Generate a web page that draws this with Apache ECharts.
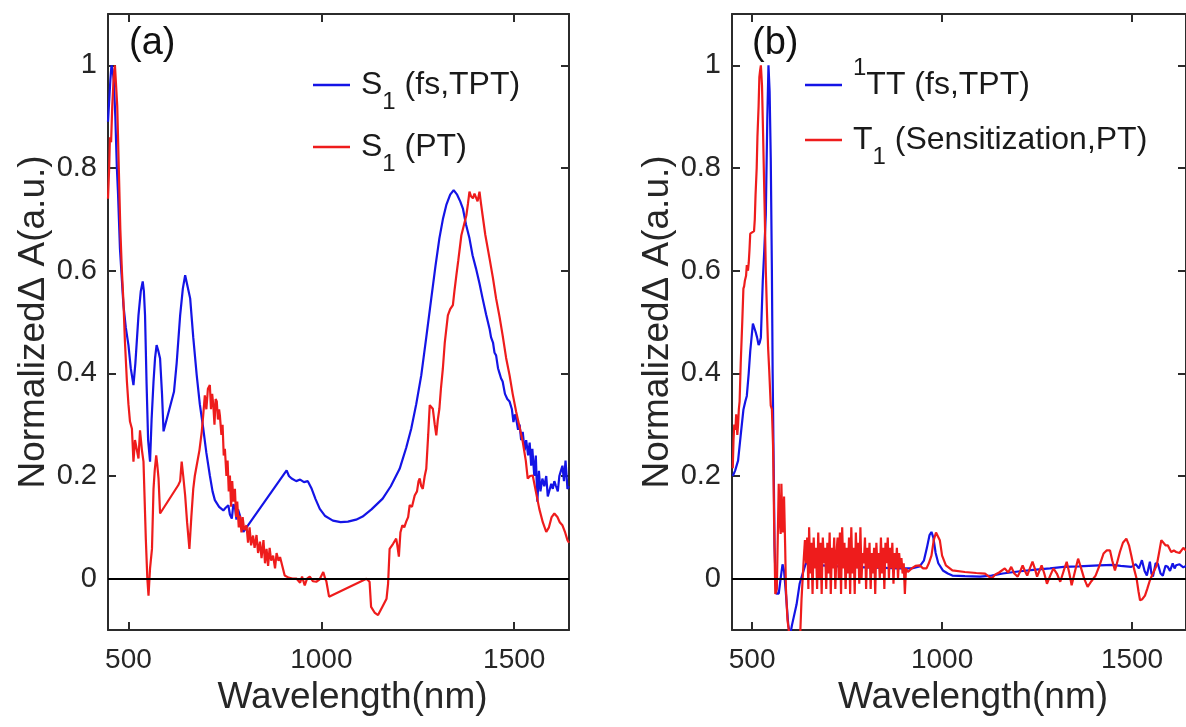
<!DOCTYPE html>
<html>
<head>
<meta charset="utf-8">
<script src="https://cdn.jsdelivr.net/npm/echarts@6/dist/echarts.min.js"></script>
<style>html,body{margin:0;padding:0;background:#fff}#c{width:1186px;height:727px}</style>
</head>
<body>
<div id="c"></div>
<script>
// ---------- tick labels ----------
const xTicks = [500, 1000, 1500];
const yTicks = [0, 0.2, 0.4, 0.6, 0.8, 1];
const xRange = [447, 1642];
const yRange = [-0.1, 1.1];

// ---------- panel (a): S1 (fs,TPT) ----------
const aBlueX = [447,450,453,456,459,462,466,470,473,478,487,493,500,506,513,518,526,532,537,540,543,547,551,556,560,565,569,573,577,582,587,591,618,625,634,641,647,653,660,668,677,685,694,702,711,718,724,735,746,752,759,763,768,772,776,780,784,789,793,798,910,916,923,935,945,955,965,975,985,996,1010,1030,1050,1069,1090,1107,1130,1159,1180,1203,1220,1233,1246,1259,1272,1285,1296,1306,1315,1324,1334,1343,1352,1360,1367,1375,1384,1392,1401,1410,1418,1427,1436,1440,1445,1449,1453,1458,1462,1466,1470,1476,1482,1488,1494,1498,1502,1505,1510,1514,1518,1522,1527,1531,1536,1540,1544,1547,1552,1556,1560,1564,1568,1573,1578,1583,1587,1591,1596,1600,1604,1608,1613,1617,1621,1625,1629,1633,1638,1642];
const aBlueY = [0.89,0.93,0.97,1.0,0.99,0.97,0.9,0.8,0.75,0.643,0.533,0.49,0.455,0.41,0.377,0.42,0.513,0.56,0.579,0.56,0.513,0.38,0.27,0.228,0.31,0.384,0.43,0.455,0.445,0.429,0.36,0.287,0.364,0.42,0.513,0.565,0.591,0.57,0.546,0.47,0.396,0.34,0.292,0.245,0.201,0.17,0.153,0.14,0.133,0.138,0.143,0.125,0.117,0.145,0.14,0.115,0.135,0.123,0.105,0.091,0.211,0.2,0.195,0.19,0.193,0.188,0.19,0.175,0.155,0.136,0.122,0.113,0.11,0.111,0.115,0.121,0.135,0.156,0.18,0.214,0.255,0.292,0.34,0.396,0.47,0.546,0.61,0.663,0.7,0.728,0.748,0.757,0.748,0.735,0.721,0.69,0.663,0.63,0.604,0.575,0.546,0.515,0.487,0.47,0.46,0.44,0.435,0.41,0.4,0.39,0.384,0.36,0.35,0.345,0.33,0.305,0.32,0.312,0.29,0.3,0.27,0.286,0.25,0.27,0.24,0.265,0.22,0.253,0.2,0.24,0.15,0.21,0.17,0.195,0.18,0.2,0.16,0.162,0.185,0.175,0.19,0.181,0.17,0.2,0.21,0.22,0.19,0.23,0.175,0.18];

// ---------- panel (a): S1 (PT) ----------
const aRedX = [447,450,452,455,458,462,465,468,471,475,479,483,487,491,496,500,504,509,513,517,522,526,530,535,539,545,549,552,556,561,565,568,572,575,578,582,629,634,638,642,647,652,658,663,668,672,677,684,690,694,698,702,706,711,714,717,720,723,726,729,732,735,737,741,744,747,750,754,757,760,763,766,769,772,776,779,782,786,789,793,796,800,806,810,814,818,823,827,832,836,841,845,850,854,858,862,866,870,875,880,884,889,893,897,905,915,925,936,945,950,957,963,970,978,987,995,1005,1010,1013,1020,1117,1125,1129,1138,1147,1158,1169,1173,1177,1181,1186,1190,1194,1197,1201,1205,1210,1215,1220,1225,1229,1235,1242,1248,1252,1255,1259,1263,1268,1272,1277,1281,1285,1289,1294,1298,1302,1306,1310,1315,1320,1328,1334,1341,1345,1350,1355,1363,1370,1376,1380,1384,1388,1393,1397,1401,1405,1410,1414,1418,1425,1436,1445,1453,1462,1470,1479,1488,1496,1505,1514,1522,1530,1535,1541,1548,1556,1565,1574,1583,1590,1597,1604,1612,1618,1625,1632,1638,1642];
const aRedY = [0.74,0.8,0.86,0.85,0.92,0.98,1.0,1.0,0.92,0.8,0.68,0.6,0.54,0.46,0.384,0.34,0.306,0.292,0.228,0.27,0.267,0.234,0.289,0.25,0.228,0.078,0.0,-0.033,0.02,0.058,0.175,0.21,0.24,0.22,0.195,0.127,0.182,0.19,0.228,0.2,0.162,0.11,0.058,0.12,0.175,0.2,0.221,0.25,0.286,0.32,0.357,0.33,0.37,0.377,0.33,0.36,0.338,0.3,0.35,0.345,0.31,0.33,0.318,0.28,0.3,0.24,0.253,0.2,0.23,0.17,0.201,0.14,0.19,0.15,0.175,0.12,0.15,0.1,0.123,0.09,0.12,0.095,0.104,0.07,0.1,0.065,0.084,0.06,0.085,0.05,0.072,0.04,0.075,0.03,0.058,0.025,0.06,0.035,0.045,0.02,0.05,0.035,0.042,0.039,0.006,0.002,0.0,0.0,-0.008,0.004,-0.013,0.0,0.004,-0.005,-0.006,-0.002,0.013,0.0,-0.005,-0.035,0.0,-0.006,-0.055,-0.066,-0.071,-0.055,-0.039,-0.01,0.058,0.06,0.068,0.07,0.078,0.065,0.043,0.09,0.104,0.1,0.111,0.12,0.143,0.14,0.162,0.17,0.19,0.195,0.18,0.175,0.2,0.214,0.28,0.338,0.34,0.331,0.3,0.279,0.31,0.331,0.37,0.409,0.46,0.513,0.525,0.533,0.56,0.591,0.62,0.669,0.69,0.708,0.73,0.754,0.745,0.741,0.75,0.747,0.735,0.754,0.73,0.708,0.67,0.624,0.585,0.546,0.51,0.474,0.43,0.396,0.36,0.325,0.295,0.267,0.23,0.195,0.2,0.201,0.17,0.136,0.11,0.091,0.1,0.12,0.127,0.12,0.11,0.104,0.09,0.075,0.07];

// ---------- panel (b): 1TT (fs,TPT) ----------
const bBlueX = [449,455,463,470,477,482,486,491,495,502,506,509,513,517,520,523,528,532,536,540,543,546,549,552,554,557,559,562,564,570,575,580,584,588,595,600,605,617,625,631,641,650,670,700,750,800,850,882,920,941,952,960,967,972,977,983,990,1002,1015,1027,1060,1100,1130,1160,1200,1240,1284,1320,1360,1413,1450,1470,1498,1510,1518,1526,1533,1539,1547,1551,1555,1562,1568,1575,1581,1588,1594,1600,1607,1612,1616,1625,1635,1642];
const bBlueY = [0.2,0.21,0.23,0.28,0.329,0.345,0.356,0.4,0.443,0.497,0.495,0.481,0.47,0.455,0.46,0.47,0.58,0.64,0.71,0.9,1.0,0.95,0.82,0.6,0.4,0.2,0.063,-0.01,-0.029,-0.029,0.0,0.028,0.015,-0.02,-0.09,-0.11,-0.09,-0.05,-0.01,0.005,0.029,0.03,0.027,0.025,0.023,0.022,0.021,0.02,0.02,0.024,0.035,0.06,0.085,0.091,0.08,0.05,0.03,0.016,0.01,0.006,0.005,0.004,0.006,0.01,0.014,0.017,0.02,0.023,0.024,0.026,0.027,0.025,0.023,0.028,0.02,0.036,0.015,0.006,0.033,0.01,0.004,0.03,0.029,0.01,0.006,0.025,0.023,0.015,0.03,0.02,0.026,0.028,0.022,0.025];

// ---------- panel (b): T1 (Sensitization,PT) ----------
const bRedX = [449,451,453,456,458,461,463,465,467,470,474,477,479,481,484,486,489,491,493,495,500,505,507,509,512,514,517,519,521,523,526,529,533,536,539,542,545,549,552,555,556,558,561,565,568,570,572,575,577,579,581,584,587,589,593,598,610,620,626,630,633,636,639,642,645,648,650,653,656,659,662,665,668,671,674,677,680,683,686,689,692,695,698,701,704,707,710,713,716,719,722,725,728,731,734,737,740,743,746,749,752,755,758,761,764,767,770,773,776,779,782,785,788,791,794,797,800,803,806,809,812,815,818,821,824,827,830,833,836,839,842,845,848,851,854,857,860,863,866,869,872,875,878,881,884,887,890,893,896,899,902,905,910,920,930,941,950,959,965,972,978,984,989,994,1000,1010,1027,1060,1090,1113,1130,1140,1150,1165,1174,1182,1190,1199,1206,1212,1218,1224,1231,1238,1244,1250,1256,1262,1269,1276,1284,1293,1302,1311,1320,1328,1335,1341,1350,1358,1366,1374,1383,1393,1404,1414,1425,1433,1442,1448,1455,1462,1468,1476,1485,1492,1498,1505,1512,1517,1521,1527,1534,1540,1547,1556,1565,1571,1577,1582,1588,1594,1603,1610,1616,1625,1635,1642];
const bRedY = [0.215,0.27,0.3,0.29,0.32,0.28,0.3,0.33,0.345,0.42,0.5,0.565,0.57,0.581,0.59,0.611,0.6,0.615,0.64,0.672,0.675,0.677,0.7,0.748,0.8,0.862,0.92,0.977,0.99,1.0,0.96,0.86,0.718,0.6,0.52,0.45,0.405,0.337,0.33,0.26,0.215,0.1,-0.03,-0.02,0.1,0.185,0.12,0.087,0.185,0.12,0.09,0.16,0.06,-0.02,-0.08,-0.11,-0.13,-0.13,-0.12,-0.04,0.0,0.04,0.075,0.03,0.08,-0.02,0.1,0.01,0.07,-0.03,0.08,0.02,0.06,-0.02,0.09,0.0,0.07,-0.03,0.08,0.03,0.06,-0.02,0.07,0.01,0.09,-0.03,0.06,0.02,0.08,-0.02,0.05,0.08,0.0,0.09,-0.03,0.1,0.02,0.07,-0.02,0.06,0.01,0.08,-0.03,0.1,0.01,0.06,-0.03,0.09,0.02,0.07,-0.01,0.1,0.0,0.05,0.03,0.08,-0.02,0.06,0.02,0.07,-0.02,0.05,0.01,0.06,-0.03,0.07,0.02,0.05,0.0,0.08,0.01,0.06,-0.02,0.07,0.03,0.08,0.0,0.06,0.02,0.07,-0.01,0.05,0.02,0.06,0.0,0.05,0.02,0.04,0.01,0.03,-0.03,0.02,0.013,0.02,0.025,0.026,0.02,0.02,0.03,0.045,0.075,0.09,0.091,0.075,0.045,0.026,0.016,0.013,0.011,0.01,0.0,0.008,0.012,0.02,0.012,0.023,0.01,0.004,0.015,0.026,0.015,0.006,0.02,0.033,0.02,0.004,0.015,0.026,0.01,-0.01,0.005,0.02,0.01,-0.006,0.015,0.033,0.01,-0.013,0.015,0.039,0.02,0.0,-0.016,-0.005,0.006,0.025,0.049,0.055,0.055,0.035,0.016,0.035,0.052,0.07,0.078,0.065,0.045,0.02,0.0,-0.025,-0.042,-0.04,-0.033,-0.02,-0.003,0.012,0.026,0.05,0.075,0.072,0.065,0.065,0.052,0.055,0.052,0.05,0.06,0.055];

// ---------- names ----------
const nameA1 = 'S1 (fs,TPT)', nameA2 = 'S1 (PT)';
const nameB1 = '1TT (fs,TPT)', nameB2 = 'T1 (Sensitization,PT)';
const legendRich = {};
legendRich[nameA1] = '{g|}S{sub|1}{m| (fs,TPT)}';
legendRich[nameA2] = '{g|}S{sub|1}{m| (PT)}';
legendRich[nameB1] = '{g|}{sup|1}TT{m| (fs,TPT)}';
legendRich[nameB2] = '{g|}T{sub|1}{m| (Sensitization,PT)}';

const zip = (xs, ys) => xs.map((x, i) => [x, ys[i]]);

const FONT = 'Liberation Sans, Arial, sans-serif';
const AX = '#2b2b2b';
const TXT = '#262626';
const BLUE = '#1414e6';
const RED = '#ee1c1c';

function xAx(grid, pos) {
  const bottom = pos === 'bottom';
  return {
    type: 'value', gridIndex: grid, position: pos, min: xRange[0], max: xRange[1],
    name: bottom ? 'Wavelength(nm)' : '', nameLocation: 'middle', nameGap: 46,
    nameTextStyle: {fontFamily: FONT, fontSize: 37, color: TXT, padding: [0, 0, 0, 28]},
    axisLine: {show: true, onZero: false, lineStyle: {color: AX, width: 2}},
    axisTick: {show: true, inside: true, length: 8, customValues: xTicks, lineStyle: {color: AX, width: 2}},
    axisLabel: {show: bottom, customValues: xTicks, margin: 16, fontFamily: FONT, fontSize: 28, color: TXT,
      formatter: v => String(v)},
    splitLine: {show: false}
  };
}
function yAx(grid, pos) {
  const left = pos === 'left';
  return {
    type: 'value', gridIndex: grid, position: pos, min: yRange[0], max: yRange[1],
    name: left ? 'NormalizedΔ A(a.u.)' : '', nameLocation: 'middle', nameGap: 54,
    nameTextStyle: {fontFamily: FONT, fontSize: 37, color: TXT},
    axisLine: {show: true, onZero: false, lineStyle: {color: AX, width: 2}},
    axisTick: {show: true, inside: true, length: 8, customValues: yTicks, lineStyle: {color: AX, width: 2}},
    axisLabel: {show: left, customValues: yTicks, margin: 11, fontFamily: FONT, fontSize: 29, color: TXT,
      formatter: v => String(v)},
    splitLine: {show: false}
  };
}
function legend(left, top, gap, names) {
  return {
    orient: 'vertical', left: left, top: top, padding: 0, itemGap: gap,
    icon: 'rect', itemWidth: 37, itemHeight: 2.5,
    data: names, formatter: n => legendRich[n],
    textStyle: {
      fontFamily: FONT, fontSize: 32, color: '#1a1a1a', lineHeight: 58,
      rich: {
        g: {width: 6},
        m: {fontFamily: FONT, fontSize: 32, color: '#1a1a1a', lineHeight: 58},
        sub: {fontFamily: FONT, fontSize: 24, color: '#1a1a1a', lineHeight: 30, verticalAlign: 'bottom'},
        sup: {fontFamily: FONT, fontSize: 24, color: '#1a1a1a', lineHeight: 30, verticalAlign: 'top'}
      }
    }
  };
}
function line(name, xi, yi, data, color, z, zero) {
  const s = {
    name: name, type: 'line', xAxisIndex: xi, yAxisIndex: yi, data: data,
    symbol: 'none', showSymbol: false, lineStyle: {color: color, width: 2.2}, itemStyle: {color: color},
    z: z, animation: false, clip: true
  };
  if (zero) {
    s.markLine = {silent: true, symbol: 'none', label: {show: false},
      lineStyle: {color: '#000', width: 2, type: 'solid'}, data: [{yAxis: 0}], animation: false};
  }
  return s;
}

const chart = echarts.init(document.getElementById('c'), null, {renderer: 'canvas'});
chart.setOption({
  animation: false,
  backgroundColor: '#fff',
  grid: [
    {left: 108, top: 14, width: 461, height: 616},
    {left: 732, top: 14, width: 461, height: 616}
  ],
  xAxis: [xAx(0, 'bottom'), xAx(0, 'top'), xAx(1, 'bottom'), xAx(1, 'top')],
  yAxis: [yAx(0, 'left'), yAx(0, 'right'), yAx(1, 'left'), yAx(1, 'right')],
  legend: [
    legend(313, 56, 4, [nameA1, nameA2]),
    legend(805, 56, -3, [nameB1, nameB2])
  ],
  graphic: [
    {type: 'text', left: 129, top: 25, style: {text: '(a)', fontFamily: FONT, fontSize: 38, fill: '#111'}},
    {type: 'text', left: 752, top: 25, style: {text: '(b)', fontFamily: FONT, fontSize: 38, fill: '#111'}}
  ],
  series: [
    line(nameA1, 0, 0, zip(aBlueX, aBlueY), BLUE, 3, true),
    line(nameA2, 0, 0, zip(aRedX, aRedY), RED, 4, false),
    line(nameB1, 2, 2, zip(bBlueX, bBlueY), BLUE, 3, true),
    line(nameB2, 2, 2, zip(bRedX, bRedY), RED, 4, false)
  ]
});
</script>
</body>
</html>
